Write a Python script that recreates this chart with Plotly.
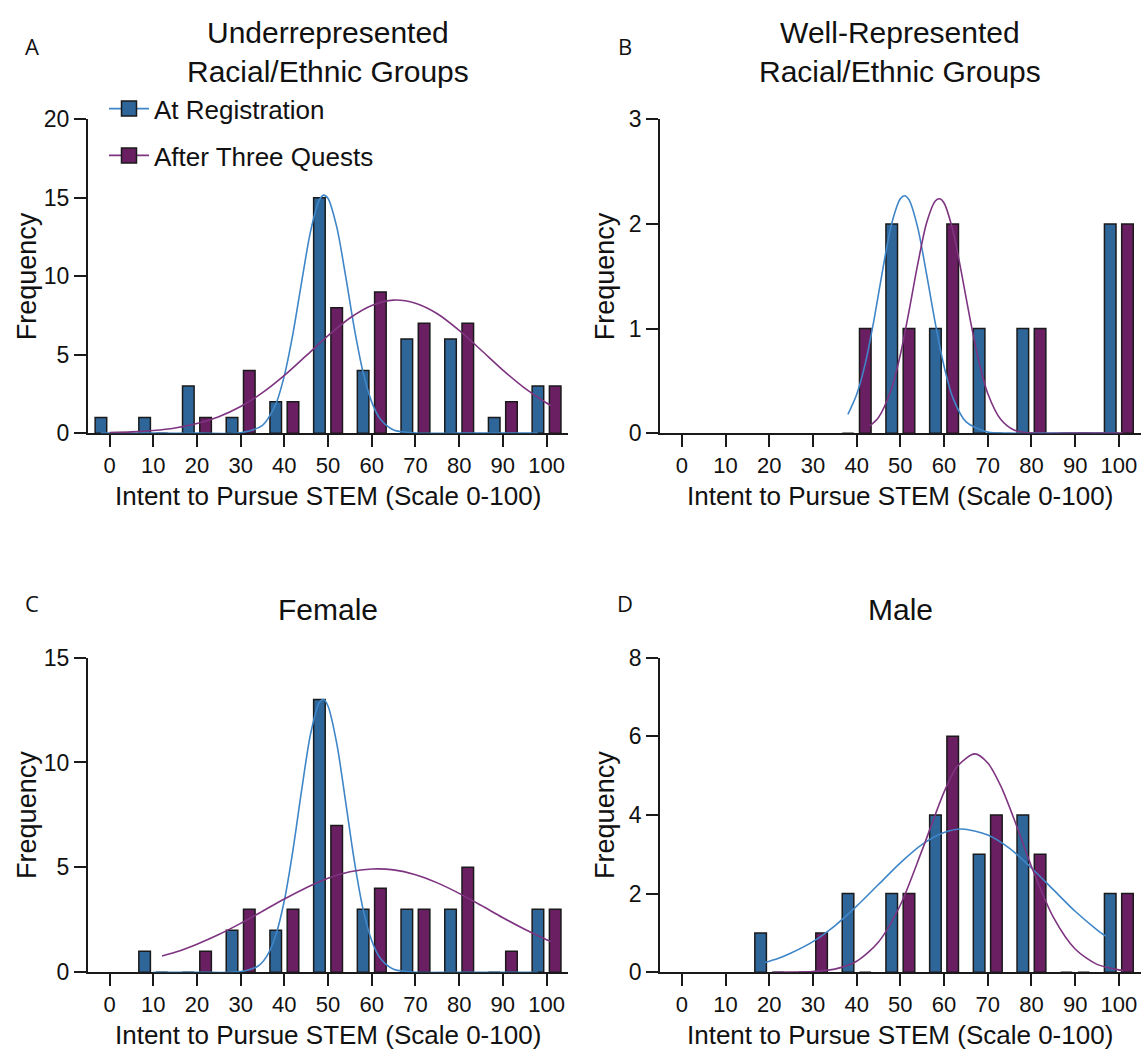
import plotly.graph_objects as go

W, H = 1144, 1063

bins = [0, 10, 20, 30, 40, 50, 60, 70, 80, 90, 100]

# Panel A: Underrepresented (None = no bar drawn in that bin)
A_reg = [1, 1, 3, 1, 2, 15, 4, 6, 6, 1, 3]
A_quest = [0, 0, 1, 4, 2, 8, 9, 7, 7, 2, 3]
# Panel B: Well-represented
B_reg = [None, None, None, None, 0, 2, 1, 1, 1, 0, 2]
B_quest = [None, None, None, None, 1, 1, 2, 0, 1, 0, 2]
# Panel C: Female
C_reg = [None, 1, 0, 2, 2, 13, 3, 3, 3, 0, 3]
C_quest = [None, 0, 1, 3, 3, 7, 4, 3, 5, 1, 3]
# Panel D: Male
D_reg = [None, None, 1, 0, 2, 2, 4, 3, 4, 0, 2]
D_quest = [None, None, 0, 1, 0, 2, 6, 4, 3, 0, 2]

# Fitted curves
A_reg_cx = [-2, 0, 10, 20, 30, 35, 38, 40, 42, 44, 46, 48, 49, 50, 52, 54, 56, 58, 60, 62, 65, 70, 80, 90, 98]
A_reg_cy = [0, 0, 0, 0, 0.03, 0.50, 1.83, 3.67, 6.39, 9.71, 12.86, 14.86, 15.17, 14.96, 13.13, 10.05, 6.70, 3.90, 1.98, 0.88, 0.20, 0.01, 0, 0, 0]
A_quest_cx = [0, 5, 10, 15, 20, 25, 30, 35, 40, 45, 50, 55, 60, 65, 70, 75, 80, 85, 90, 95, 100, 101]
A_quest_cy = [0.04, 0.08, 0.17, 0.33, 0.61, 1.05, 1.70, 2.58, 3.68, 4.94, 6.21, 7.34, 8.14, 8.48, 8.28, 7.61, 6.55, 5.30, 4.02, 2.87, 1.92, 1.76]

B_reg_cx = [38, 40, 42, 44, 46, 48, 50, 51, 52, 54, 56, 58, 60, 62, 65, 70, 75, 80, 90, 100]
B_reg_cy = [0.18, 0.37, 0.67, 1.09, 1.57, 2.00, 2.24, 2.27, 2.23, 1.96, 1.52, 1.05, 0.64, 0.34, 0.11, 0.01, 0, 0, 0, 0]
B_quest_cx = [43, 45, 48, 50, 52, 54, 56, 58, 59, 60, 62, 64, 66, 68, 70, 73, 76, 80, 90, 101]
B_quest_cy = [0.07, 0.15, 0.43, 0.75, 1.17, 1.62, 2.01, 2.22, 2.24, 2.20, 1.94, 1.53, 1.08, 0.68, 0.38, 0.13, 0.03, 0, 0, 0]

C_reg_cx = [10, 20, 30, 34, 36, 38, 40, 42, 44, 46, 48, 49, 50, 52, 54, 56, 58, 60, 62, 65, 70, 80, 90, 98]
C_reg_cy = [0, 0, 0.03, 0.30, 0.77, 1.74, 3.42, 5.86, 8.74, 11.36, 12.86, 13.0, 12.68, 10.9, 8.16, 5.32, 3.02, 1.50, 0.65, 0.14, 0, 0, 0, 0]
C_quest_cx = [12, 15, 20, 25, 30, 35, 40, 45, 50, 55, 60, 65, 70, 75, 80, 85, 90, 95, 100, 101]
C_quest_cy = [0.77, 0.95, 1.34, 1.80, 2.33, 2.91, 3.49, 4.03, 4.48, 4.79, 4.92, 4.88, 4.65, 4.26, 3.76, 3.19, 2.60, 2.05, 1.55, 1.46]

D_reg_cx = [19, 22, 25, 30, 35, 40, 45, 50, 55, 60, 64, 70, 75, 80, 85, 90, 95, 97]
D_reg_cy = [0.25, 0.35, 0.49, 0.78, 1.18, 1.68, 2.23, 2.78, 3.25, 3.55, 3.64, 3.49, 3.15, 2.65, 2.10, 1.55, 1.08, 0.92]
D_quest_cx = [21, 25, 30, 35, 40, 45, 50, 55, 60, 63, 67, 70, 73, 76, 80, 85, 90, 95, 100, 101]
D_quest_cy = [0, 0.004, 0.02, 0.08, 0.28, 0.77, 1.71, 3.11, 4.58, 5.23, 5.55, 5.32, 4.73, 3.90, 2.69, 1.40, 0.59, 0.20, 0.06, 0.04]

titles = ["Underrepresented<br>Racial/Ethnic Groups", "Well-Represented<br>Racial/Ethnic Groups", "Female", "Male"]
letters = ["A", "B", "C", "D"]
y_ticks = [[0, 5, 10, 15, 20], [0, 1, 2, 3], [0, 5, 10, 15], [0, 2, 4, 6, 8]]
x_title = "Intent to Pursue STEM (Scale 0-100)"
y_title = "Frequency"
series_names = ["At Registration", "After Three Quests"]

BLUE_BAR = "#2f6699"
PURPLE_BAR = "#6a1f62"
BLUE_LINE = "#3f86c8"
PURPLE_LINE = "#7e3480"
EDGE = "#1a1a1a"
FONT = "Liberation Sans, Arial, sans-serif"

panels = [
    (A_reg, A_quest, A_reg_cx, A_reg_cy, A_quest_cx, A_quest_cy),
    (B_reg, B_quest, B_reg_cx, B_reg_cy, B_quest_cx, B_quest_cy),
    (C_reg, C_quest, C_reg_cx, C_reg_cy, C_quest_cx, C_quest_cy),
    (D_reg, D_quest, D_reg_cx, D_reg_cy, D_quest_cx, D_quest_cy),
]

# pixel layout
x_px = [(87.7, 568.4), (660.0, 1140.7), (87.7, 568.4), (660.0, 1140.7)]
y_px = [(109.0, 430.7), (109.0, 430.7), (660.7, 983.3), (660.7, 983.3)]

fig = go.Figure()
layout = {}
annotations = []
for i, (reg, quest, rcx, rcy, qcx, qcy) in enumerate(panels):
    n = "" if i == 0 else str(i + 1)
    xa, ya = "x" + n, "y" + n
    fig.add_trace(go.Bar(x=bins, y=reg, xaxis=xa, yaxis=ya, offset=-3.3, width=2.65,
                         marker=dict(color=BLUE_BAR, line=dict(color=EDGE, width=1.5)),
                         showlegend=False))
    fig.add_trace(go.Bar(x=bins, y=quest, xaxis=xa, yaxis=ya, offset=0.65, width=2.65,
                         marker=dict(color=PURPLE_BAR, line=dict(color=EDGE, width=1.5)),
                         showlegend=False))
    fig.add_trace(go.Scatter(x=rcx, y=rcy, xaxis=xa, yaxis=ya, mode="lines",
                             line=dict(color=BLUE_LINE, width=1.6, shape="spline", smoothing=0.8),
                             showlegend=False))
    fig.add_trace(go.Scatter(x=qcx, y=qcy, xaxis=xa, yaxis=ya, mode="lines",
                             line=dict(color=PURPLE_LINE, width=1.6, shape="spline", smoothing=0.8),
                             showlegend=False))
    x0, x1 = x_px[i]
    yt, yb = y_px[i]
    yk = y_ticks[i]
    layout["xaxis" + n] = dict(
        domain=[x0 / W, x1 / W], range=[-5, 105], anchor=ya,
        tickmode="array", tickvals=bins, ticktext=[str(b) for b in bins],
        ticks="outside", ticklen=12, tickwidth=1.5, tickcolor=EDGE,
        showline=True, linecolor=EDGE, linewidth=1.5, showgrid=False, zeroline=False,
        tickfont=dict(family=FONT, size=22, color="#111"), layer="below traces",
        fixedrange=True)
    layout["yaxis" + n] = dict(
        domain=[1 - yb / H, 1 - yt / H], range=[0, yk[-1]], anchor=xa,
        tickmode="array", tickvals=yk, ticktext=[str(v) for v in yk],
        ticks="outside", ticklen=12, tickwidth=1.5, tickcolor=EDGE,
        showline=True, linecolor=EDGE, linewidth=1.5, showgrid=False, zeroline=False,
        tickfont=dict(family=FONT, size=23, color="#111"), layer="below traces",
        fixedrange=True)
    cx = (x0 + x1) / 2
    ty = 40 if i < 2 else 611
    annotations.append(dict(text=titles[i], x=cx / W, y=1 - ty / H, xref="paper", yref="paper",
                            showarrow=False, xanchor="center", yanchor="middle",
                            font=dict(family=FONT, size=30, color="#111")))
    lx = 32 if i % 2 == 0 else 625
    ly = 34 if i < 2 else 605
    annotations.append(dict(text=letters[i], x=lx / W, y=1 - ly / H, xref="paper", yref="paper",
                            showarrow=False, xanchor="center", yanchor="middle",
                            font=dict(family="Open Sans, sans-serif", size=22, color="#111")))
    annotations.append(dict(text=x_title, x=cx / W, y=1 - (yb + 64) / H, xref="paper", yref="paper",
                            showarrow=False, xanchor="center", yanchor="middle",
                            font=dict(family=FONT, size=26, color="#111")))
    fx = 27 if i % 2 == 0 else 605
    annotations.append(dict(text=y_title, x=fx / W, y=1 - ((yt + yb) / 2) / H, xref="paper", yref="paper",
                            showarrow=False, xanchor="center", yanchor="middle", textangle=-90,
                            font=dict(family=FONT, size=27, color="#111")))

# legend entries (line + square marker)
fig.add_trace(go.Scatter(x=[None], y=[None], mode="lines+markers", name=series_names[0],
                         line=dict(color=BLUE_LINE, width=1.6),
                         marker=dict(symbol="square", size=15, color=BLUE_BAR, line=dict(color=EDGE, width=1.5)),
                         legendgroup="a"))
fig.add_trace(go.Scatter(x=[None], y=[None], mode="lines+markers", name=series_names[1],
                         line=dict(color=PURPLE_LINE, width=1.6),
                         marker=dict(symbol="square", size=15, color=PURPLE_BAR, line=dict(color=EDGE, width=1.5)),
                         legendgroup="b"))

fig.update_layout(
    width=W, height=H, margin=dict(l=0, r=0, t=0, b=0),
    paper_bgcolor="white", plot_bgcolor="white",
    barmode="overlay", annotations=annotations,
    showlegend=True,
    legend=dict(x=104 / W, y=1 - 74 / H, xanchor="left", yanchor="top",
                font=dict(family=FONT, size=26, color="#111"), bgcolor="rgba(0,0,0,0)",
                itemwidth=40, tracegroupgap=10, traceorder="grouped"),
    **layout,
)

fig.write_html("out.html", config={"displayModeBar": False, "responsive": False})
with open("out.html", "r", encoding="utf-8") as f:
    html = f.read()
html = html.replace("<head>", "<head><style>html,body{margin:0;padding:0;overflow:hidden;}</style>", 1)
with open("out.html", "w", encoding="utf-8") as f:
    f.write(html)
